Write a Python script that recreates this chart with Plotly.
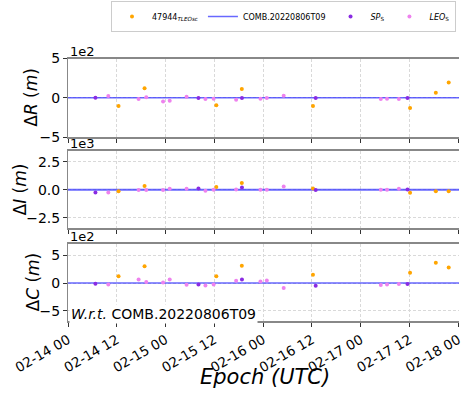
import plotly.graph_objects as go

# ---------------- data ----------------
tle_times = ["2022-02-14 12:26", "2022-02-14 18:50", "2022-02-15 12:29", "2022-02-15 18:45",
             "2022-02-16 12:15", "2022-02-17 12:08", "2022-02-17 18:28", "2022-02-17 21:38"]
tle_R = [-105, 120, -95, 113, -104, -130, 65, 195]
tle_I = [-120, 330, 240, 600, 120, -270, -120, -120]
tle_C = [120, 300, 120, 310, 150, 185, 365, 280]

sp_times = ["2022-02-14 06:45", "2022-02-15 08:05", "2022-02-15 18:47", "2022-02-16 12:55",
            "2022-02-17 11:30"]
sp_R = [0, -4, -4, -4, -4]
sp_I = [-240, 120, 210, -30, 30]
sp_C = [-12, -24, 65, -48, -18]

leo_times = ["2022-02-14 09:55", "2022-02-14 17:22", "2022-02-14 19:15", "2022-02-14 23:23",
             "2022-02-15 01:01", "2022-02-15 05:10", "2022-02-15 09:48", "2022-02-15 11:49",
             "2022-02-15 17:21", "2022-02-15 23:20", "2022-02-16 00:54", "2022-02-16 05:03",
             "2022-02-17 04:56", "2022-02-17 06:28", "2022-02-17 09:23"]
leo_R = [22, -17, 5, -48, -39, 13, -17, -13, -26, -13, -4, 26, -17, -13, -17]
leo_I = [-240, -30, -30, -30, 90, 90, -90, 0, 30, 0, 0, 300, 0, 0, 90]
leo_C = [-24, 65, 18, 12, 65, -30, -42, -24, 42, 30, 48, -90, -36, -24, -18]

x_range = ["2022-02-14 00:00", "2022-02-18 00:10"]
ref_x = ["2022-02-14 00:00", "2022-02-18 00:10"]
ref_y = [0, 0]

panel_ranges = [[-500, 500], [-3400, 3450], [-680, 700]]
panel_tickvals = [[-500, 0, 500], [-2500, 0, 2500], [-500, 0, 500]]
panel_ticktext = [["−5", "0", "5"], ["−2.5", "0.0", "2.5"], ["−5", "0", "5"]]
panel_offsets = ["1e2", "1e3", "1e2"]
panel_titles = ["Δ<i>R</i> (<i>m</i>)", "Δ<i>I</i> (<i>m</i>)", "Δ<i>C</i> (<i>m</i>)"]

# ---------------- layout helpers ----------------
W, H = 461, 397
def py(p):
    return 1 - p / H
def px(p):
    return p / W

panel_px = [(58.5, 137), (151, 228), (244, 321)]
title_x = [31, 20, 32]
x_left = 68
x_right = 459
ref_line_w = [1.5, 2, 1.5]

ORANGE = "#FFA500"
PURPLE = "#8A2BE2"
VIOLET = "#EE82EE"
BLUE = "rgba(40,40,255,0.7)"
GRID = "#d9d9d9"

fig = go.Figure()

series = [
    (tle_times, [tle_R, tle_I, tle_C], "47944<sub><i>TLEOsc</i></sub>", ORANGE, 1),
    (sp_times, [sp_R, sp_I, sp_C], "<i>SP</i><sub>S</sub>", PURPLE, 3),
    (leo_times, [leo_R, leo_I, leo_C], "<i>LEO</i><sub>S</sub>", VIOLET, 4),
]

for i in range(3):
    xa = "x" if i == 0 else f"x{i+1}"
    ya = "y" if i == 0 else f"y{i+1}"
    fig.add_trace(go.Scatter(x=ref_x, y=ref_y, mode="lines",
                             line=dict(color=BLUE, width=ref_line_w[i]),
                             name="COMB.20220806T09", showlegend=(i == 0), legendrank=2,
                             xaxis=xa, yaxis=ya, hoverinfo="skip"))
for i in range(3):
    xa = "x" if i == 0 else f"x{i+1}"
    ya = "y" if i == 0 else f"y{i+1}"
    for times, vals, name, color, rank in series:
        fig.add_trace(go.Scatter(x=times, y=vals[i], mode="markers",
                                 marker=dict(color=color, size=4),
                                 name=name, showlegend=(i == 0), legendrank=rank,
                                 xaxis=xa, yaxis=ya))

layout = dict(
    width=W, height=H,
    margin=dict(l=0, r=0, t=0, b=0),
    paper_bgcolor="white", plot_bgcolor="white",
    font=dict(family="DejaVu Sans", color="black"),
    showlegend=True,
    legend=dict(orientation="h", x=px(111), y=py(1), xanchor="left", yanchor="top",
                font=dict(size=8, family="DejaVu Sans"), bordercolor="#cccccc", borderwidth=1,
                bgcolor="white", itemwidth=30, tracegroupgap=0),
)

annotations = []
for i in range(3):
    xk = "xaxis" if i == 0 else f"xaxis{i+1}"
    yk = "yaxis" if i == 0 else f"yaxis{i+1}"
    top, bot = panel_px[i]
    layout[xk] = dict(
        domain=[px(x_left), px(x_right)], range=x_range, type="date",
        tick0="2022-02-14", dtick=43200000, tickformat="%m-%d %H",
        showticklabels=(i == 2), tickangle=-30, tickfont=dict(size=13.5),
        ticklabeloverflow="allow",
        ticks="outside", ticklen=4, tickcolor="#333333",
        showgrid=True, gridcolor=GRID, gridwidth=1, griddash="3px,2px",
        showline=True, mirror=True, linecolor="#888888", linewidth=2,
        zeroline=False, automargin=False,
        anchor="y" if i == 0 else f"y{i+1}",
    )
    if i > 0:
        layout[xk]["matches"] = "x"
    layout[yk] = dict(
        domain=[py(bot), py(top)], range=panel_ranges[i],
        tickvals=panel_tickvals[i], ticktext=panel_ticktext[i], tickfont=dict(size=14),
        ticks="outside", ticklen=4, tickcolor="#333333",
        showgrid=True, gridcolor=GRID, gridwidth=1, griddash="3px,2px",
        showline=True, linecolor="#888888", linewidth=1,
        zeroline=False, automargin=False,
        anchor="x" if i == 0 else f"x{i+1}",
    )
    annotations.append(dict(text=panel_titles[i], xref="paper", yref="paper",
                            x=px(title_x[i]), y=py((top + bot) / 2), textangle=-90,
                            showarrow=False, font=dict(size=17), xanchor="center", yanchor="middle"))
    annotations.append(dict(text=panel_offsets[i], xref="paper", yref="paper",
                            x=px(x_left), y=py(top), showarrow=False, font=dict(size=13),
                            xanchor="left", yanchor="bottom", yshift=-2))

annotations.append(dict(text="<i>W.r.t.</i> COMB.20220806T09", xref="paper", yref="paper",
                        x=px(x_left + 1), y=py(314), showarrow=False, font=dict(size=14),
                        xanchor="left", yanchor="middle", bgcolor="white", borderpad=1))
annotations.append(dict(text="<i>Epoch (UTC)</i>", xref="paper", yref="paper",
                        x=px(265), y=py(377), showarrow=False, font=dict(size=21),
                        xanchor="center", yanchor="middle"))
layout["annotations"] = annotations

fig.update_layout(**layout)
fig.write_html("out.html", config={"displayModeBar": False},
               post_script="document.body.style.margin='0px';document.body.style.overflow='hidden';")
